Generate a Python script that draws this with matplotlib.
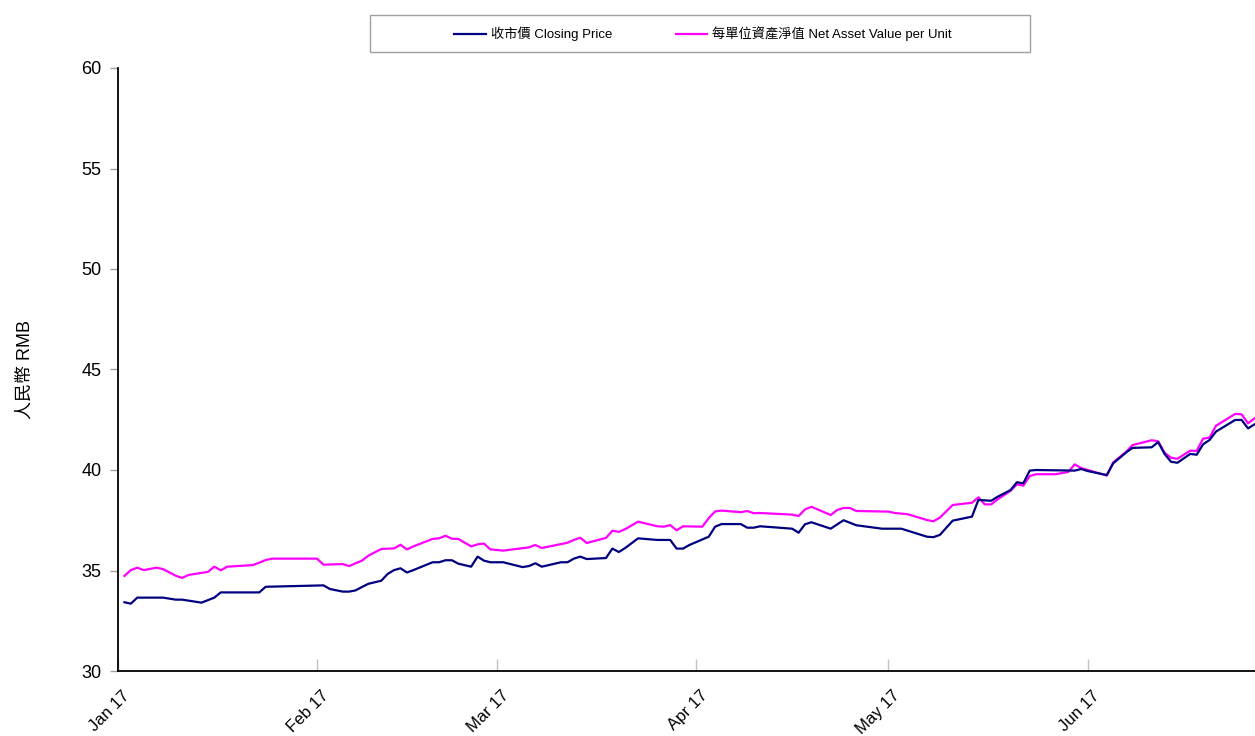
import matplotlib
matplotlib.use("Agg")
import matplotlib.pyplot as plt
import matplotlib.dates as mdates
import matplotlib.transforms as mtransforms
import pandas as pd
from matplotlib.patches import Rectangle
from matplotlib import font_manager

# ---------------- data ----------------
close_dates = [
    "2017-01-02", "2017-01-03", "2017-01-04", "2017-01-08", "2017-01-10", "2017-01-11", "2017-01-14",
    "2017-01-16", "2017-01-17", "2017-01-23", "2017-01-24", "2017-02-02", "2017-02-03", "2017-02-05",
    "2017-02-06", "2017-02-07", "2017-02-08", "2017-02-09", "2017-02-11", "2017-02-12", "2017-02-13",
    "2017-02-14", "2017-02-15", "2017-02-16", "2017-02-19", "2017-02-20", "2017-02-21", "2017-02-22",
    "2017-02-23", "2017-02-25", "2017-02-26", "2017-02-27", "2017-02-28", "2017-03-02", "2017-03-05",
    "2017-03-06", "2017-03-07", "2017-03-08", "2017-03-11", "2017-03-12", "2017-03-13", "2017-03-14",
    "2017-03-15", "2017-03-18", "2017-03-19", "2017-03-20", "2017-03-21", "2017-03-23", "2017-03-26",
    "2017-03-28", "2017-03-29", "2017-03-30", "2017-03-31", "2017-04-03", "2017-04-04", "2017-04-05",
    "2017-04-08", "2017-04-09", "2017-04-10", "2017-04-11", "2017-04-16", "2017-04-17", "2017-04-18",
    "2017-04-19", "2017-04-22", "2017-04-24", "2017-04-26", "2017-04-30", "2017-05-03", "2017-05-07",
    "2017-05-08", "2017-05-09", "2017-05-11", "2017-05-14", "2017-05-15", "2017-05-17", "2017-05-18",
    "2017-05-20", "2017-05-21", "2017-05-22", "2017-05-23", "2017-05-24", "2017-05-30", "2017-05-31",
    "2017-06-01", "2017-06-04", "2017-06-05", "2017-06-07", "2017-06-08", "2017-06-11", "2017-06-12",
    "2017-06-13", "2017-06-14", "2017-06-15", "2017-06-17", "2017-06-18", "2017-06-19", "2017-06-20",
    "2017-06-21", "2017-06-24", "2017-06-25", "2017-06-26", "2017-06-27",
]
close_values = [
    33.42, 33.35, 33.65, 33.65, 33.55, 33.55, 33.40,
    33.65, 33.91, 33.91, 34.19, 34.26, 34.08, 33.95,
    33.95, 34.01, 34.18, 34.34, 34.49, 34.83, 35.02,
    35.11, 34.90, 35.02, 35.41, 35.41, 35.51, 35.51,
    35.34, 35.19, 35.69, 35.49, 35.41, 35.41, 35.17,
    35.22, 35.36, 35.19, 35.41, 35.41, 35.59, 35.69,
    35.57, 35.62, 36.09, 35.92, 36.12, 36.60, 36.52,
    36.52, 36.09, 36.09, 36.27, 36.68, 37.18, 37.31,
    37.31, 37.13, 37.13, 37.20, 37.08, 36.88, 37.30,
    37.40, 37.08, 37.50, 37.25, 37.08, 37.08, 36.68,
    36.66, 36.77, 37.48, 37.68, 38.51, 38.47, 38.67,
    39.00, 39.39, 39.34, 39.97, 40.00, 39.97, 40.05,
    39.95, 39.75, 40.33, 40.87, 41.10, 41.13, 41.39,
    40.80, 40.41, 40.36, 40.80, 40.76, 41.28, 41.49,
    41.91, 42.49, 42.49, 42.07, 42.27,
]

nav_dates = [
    "2017-01-02", "2017-01-03", "2017-01-04", "2017-01-05", "2017-01-07", "2017-01-08", "2017-01-10",
    "2017-01-11", "2017-01-12", "2017-01-15", "2017-01-16", "2017-01-17", "2017-01-18", "2017-01-22",
    "2017-01-23", "2017-01-24", "2017-01-25", "2017-02-01", "2017-02-02", "2017-02-05", "2017-02-06",
    "2017-02-07", "2017-02-08", "2017-02-09", "2017-02-11", "2017-02-13", "2017-02-14", "2017-02-15",
    "2017-02-16", "2017-02-19", "2017-02-20", "2017-02-21", "2017-02-22", "2017-02-23", "2017-02-25",
    "2017-02-26", "2017-02-27", "2017-02-28", "2017-03-02", "2017-03-06", "2017-03-07", "2017-03-08",
    "2017-03-12", "2017-03-13", "2017-03-14", "2017-03-15", "2017-03-18", "2017-03-19", "2017-03-20",
    "2017-03-21", "2017-03-23", "2017-03-26", "2017-03-27", "2017-03-28", "2017-03-29", "2017-03-30",
    "2017-04-02", "2017-04-03", "2017-04-04", "2017-04-05", "2017-04-08", "2017-04-09", "2017-04-10",
    "2017-04-11", "2017-04-16", "2017-04-17", "2017-04-18", "2017-04-19", "2017-04-22", "2017-04-23",
    "2017-04-24", "2017-04-25", "2017-04-26", "2017-05-01", "2017-05-02", "2017-05-04", "2017-05-07",
    "2017-05-08", "2017-05-09", "2017-05-11", "2017-05-14", "2017-05-15", "2017-05-16", "2017-05-17",
    "2017-05-18", "2017-05-20", "2017-05-21", "2017-05-22", "2017-05-23", "2017-05-24", "2017-05-27",
    "2017-05-29", "2017-05-30", "2017-05-31", "2017-06-04", "2017-06-05", "2017-06-07", "2017-06-08",
    "2017-06-11", "2017-06-12", "2017-06-13", "2017-06-14", "2017-06-15", "2017-06-17", "2017-06-18",
    "2017-06-19", "2017-06-20", "2017-06-21", "2017-06-24", "2017-06-25", "2017-06-26", "2017-06-27",
]
nav_values = [
    34.73, 35.02, 35.14, 35.02, 35.14, 35.07, 34.74,
    34.63, 34.78, 34.93, 35.19, 35.01, 35.19, 35.27,
    35.39, 35.52, 35.59, 35.59, 35.29, 35.32, 35.22,
    35.36, 35.49, 35.74, 36.07, 36.10, 36.28, 36.05,
    36.20, 36.57, 36.60, 36.73, 36.58, 36.57, 36.20,
    36.30, 36.34, 36.05, 35.99, 36.15, 36.27, 36.12,
    36.38, 36.52, 36.63, 36.37, 36.62, 36.98, 36.92,
    37.06, 37.43, 37.20, 37.18, 37.26, 37.00, 37.20,
    37.18, 37.60, 37.94, 37.98, 37.90, 37.96, 37.85,
    37.86, 37.78, 37.71, 38.04, 38.17, 37.76, 38.01,
    38.11, 38.11, 37.96, 37.93, 37.86, 37.80, 37.51,
    37.45, 37.63, 38.26, 38.37, 38.64, 38.29, 38.29,
    38.54, 38.96, 39.29, 39.22, 39.70, 39.79, 39.79,
    39.90, 40.28, 40.10, 39.72, 40.38, 40.90, 41.24,
    41.48, 41.43, 40.86, 40.61, 40.56, 40.96, 40.95,
    41.56, 41.61, 42.20, 42.79, 42.77, 42.32, 42.57,
]

series_labels = ["收市價 Closing Price", "每單位資產淨值 Net Asset Value per Unit"]
y_label = "人民幣 RMB"
y_ticks = [30, 35, 40, 45, 50, 55, 60]
x_tick_dates = ["2017-01-01", "2017-02-01", "2017-03-01", "2017-04-01", "2017-05-01", "2017-06-01"]

# ---------------- fonts ----------------
installed = {f.name for f in font_manager.fontManager.ttflist}
narrow = "Liberation Sans Narrow" if "Liberation Sans Narrow" in installed else "Liberation Sans"
fam = [narrow, "Noto Sans CJK TC", "DejaVu Sans"]
plt.rcParams["font.family"] = fam

# ---------------- figure ----------------
fig = plt.figure(figsize=(12.55, 7.36), dpi=100)
ax = fig.add_axes([118 / 1255, 1 - 671 / 736, 1 - 118 / 1255, (671 - 68) / 736])

cd = pd.to_datetime(close_dates)
nd = pd.to_datetime(nav_dates)
l1, = ax.plot(cd, close_values, color="#000080", lw=1.6, label=series_labels[0], zorder=3)
l2, = ax.plot(nd, nav_values, color="#FF00FF", lw=1.6, label=series_labels[1], zorder=2)

ax.set_ylim(30, 60)
ax.set_yticks(y_ticks)
ax.set_xlim(pd.Timestamp("2017-01-01"), pd.Timestamp("2017-06-27 02:00"))
ax.set_xticks(pd.to_datetime(x_tick_dates))
ax.xaxis.set_major_formatter(mdates.DateFormatter("%b %y"))

for s in ["top", "right"]:
    ax.spines[s].set_visible(False)
for s in ["left", "bottom"]:
    ax.spines[s].set_color("black")
    ax.spines[s].set_linewidth(1.3)

ax.tick_params(axis="y", direction="out", length=6, width=1, color="#a0a0a0",
               labelsize=13, pad=6)
ax.tick_params(axis="x", direction="in", length=9, width=1, color="#c0c0c0",
               labelsize=12, pad=12)
shift = mtransforms.ScaledTranslation(4 / 100, 0, fig.dpi_scale_trans)
for lab in ax.get_xticklabels():
    lab.set_rotation(45)
    lab.set_ha("right")
    lab.set_rotation_mode("anchor")
    lab.set_transform(lab.get_transform() + shift)

ax.set_ylabel(y_label, fontsize=13, labelpad=34)

# legend frame and legend
fig.patches.append(Rectangle((370 / 1255, 1 - 52 / 736), 660 / 1255, 37 / 736,
                             transform=fig.transFigure, facecolor="white",
                             edgecolor="#a0a0a0", lw=1.0))
fig.legend(handles=[l1, l2], loc="center", bbox_to_anchor=(703 / 1255, 1 - 34 / 736),
           ncol=2, frameon=False, fontsize=9.5, handlelength=2.4, columnspacing=4.8,
           handletextpad=0.4)

fig.savefig("out.png", dpi=100)
